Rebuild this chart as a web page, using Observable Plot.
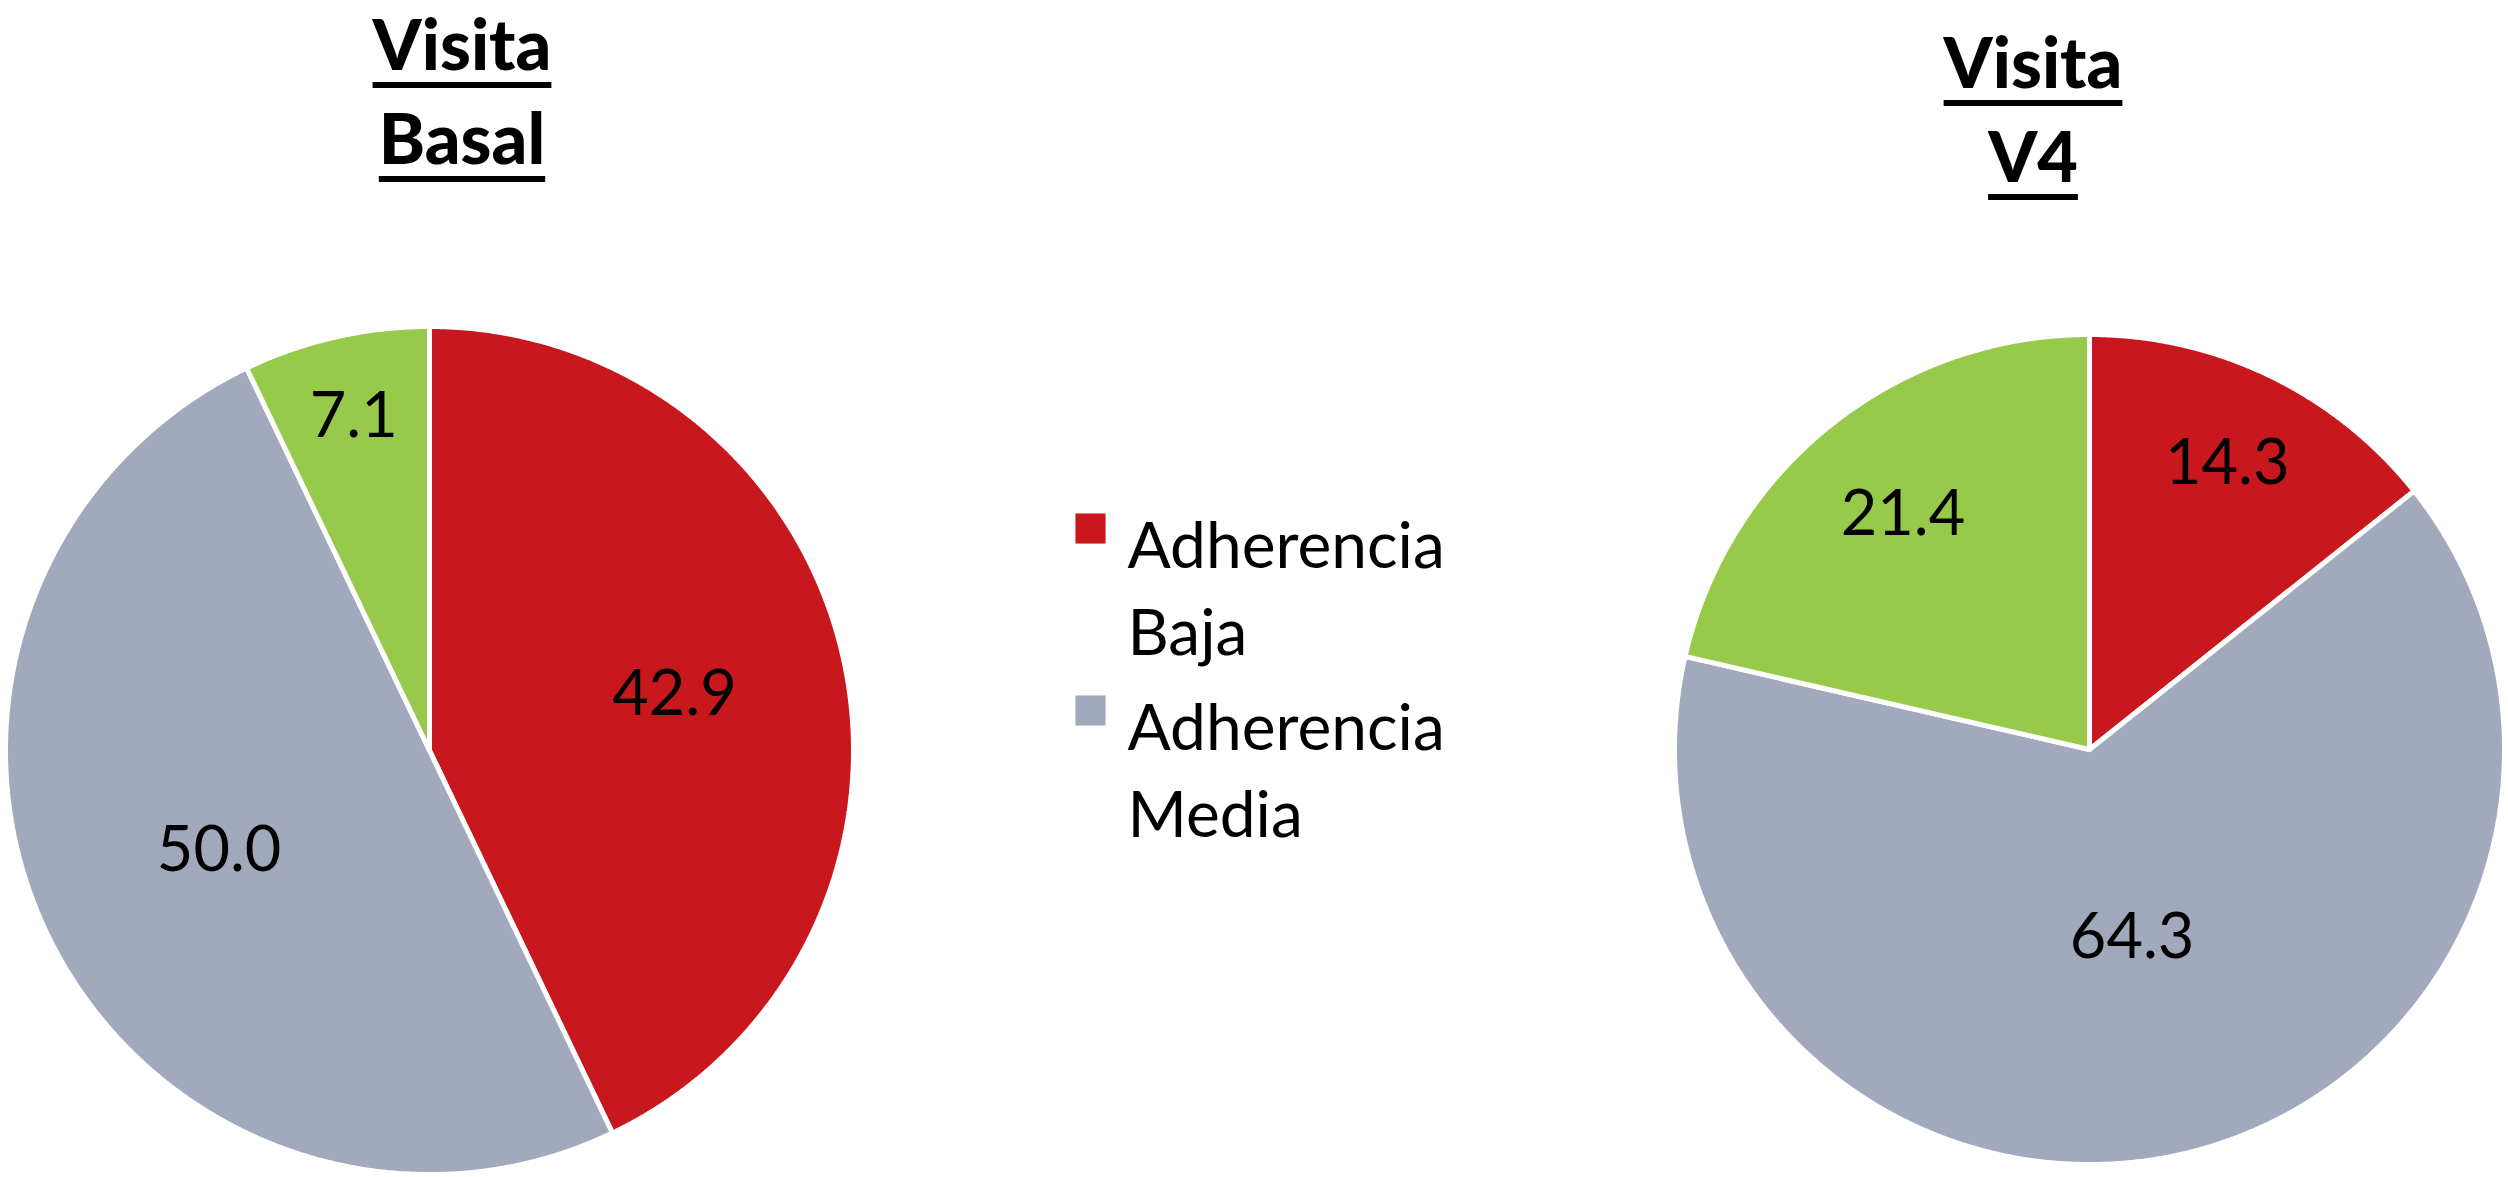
<!DOCTYPE html>
<html>
<head>
<meta charset="utf-8">
<script src="https://cdn.jsdelivr.net/npm/d3@7"></script>
<script src="https://cdn.jsdelivr.net/npm/@observablehq/plot@0.6"></script>
<style>
  html, body { margin: 0; padding: 0; background: #fff; }
  #wrap { position: relative; width: 2508px; height: 1177px; overflow: hidden; font-family: Lato, "Open Sans", sans-serif; }
  #wrap svg { position: absolute; left: 0; top: 0; }
  .title {
    position: absolute; transform: translateX(-50%);
    font-family: Lato, "Open Sans", sans-serif; font-weight: 900; font-size: 70px; line-height: 94px;
    text-align: center; color: #000; white-space: nowrap;
    text-decoration: underline; text-decoration-thickness: 6px; text-underline-offset: 12px;
  }
</style>
</head>
<body>
<div id="wrap"></div>
<script>
// ---- data ----
const categories = ["Adherencia Baja", "Adherencia Media", "Adherencia Alta"];
const visits = ["Visita Basal", "Visita V4"];
const basalValues = [42.9, 50.0, 7.1];
const v4Values = [14.3, 64.3, 21.4];
const legendCategories = ["Adherencia Baja", "Adherencia Media"];
const colors = ["#C8171D", "#A2A9BD", "#97C94B"];

// ---- layout (pixels) ----
const W = 2508, H = 1177;
const pieLayout = [
  {visit: visits[0], values: basalValues, cx: 429, cy: 750, r: 424, title: ["Visita", "Basal"], tx: 462, ttop: -4},
  {visit: visits[1], values: v4Values, cx: 2089, cy: 749, r: 415, title: ["Visita", "V4"], tx: 2033, ttop: 14}
];

const pieGen = d3.pie().sort(null).value(d => d);
const slicePts = [];
const labels = [];
for (const p of pieLayout) {
  const arcs = pieGen(p.values);
  const total = d3.sum(p.values);
  arcs.forEach((a, i) => {
    const key = p.visit + "|" + categories[i];
    const cat = categories[i];
    slicePts.push({key, cat, x: p.cx, y: p.cy});
    const n = Math.max(2, Math.ceil((a.endAngle - a.startAngle) / (Math.PI / 720)));
    for (let k = 0; k <= n; k++) {
      const t = a.startAngle + (a.endAngle - a.startAngle) * k / n;
      slicePts.push({key, cat, x: p.cx + p.r * Math.sin(t), y: p.cy - p.r * Math.cos(t)});
    }
    slicePts.push({key, cat, x: p.cx, y: p.cy});
    const mid = (a.startAngle + a.endAngle) / 2;
    // "best fit" style: smaller slices get labels further out
    const lr = p.r * (0.85 - 0.6 * a.data / total);
    labels.push({x: p.cx + lr * Math.sin(mid), y: p.cy - lr * Math.cos(mid), text: a.data.toFixed(1)});
  });
}

const legendX = 1090, legendTextX = 1127, legendY0 = 528, legendStep = 182;
const legendRows = legendCategories.map((c, i) => ({
  cat: c, x: legendX, y: legendY0 + i * legendStep,
  tx: legendTextX, text: c.replace(" ", "\n")
}));

const chart = Plot.plot({
  width: W, height: H,
  margin: 0,
  x: {domain: [0, W], range: [0, W], axis: null},
  y: {domain: [0, H], range: [0, H], axis: null},
  color: {domain: categories, range: colors},
  style: {fontFamily: "Lato, 'Open Sans', sans-serif", background: "white"},
  marks: [
    Plot.line(slicePts, {x: "x", y: "y", z: "key", fill: "cat", stroke: "white", strokeWidth: 5, strokeLinejoin: "miter", curve: "linear"}),
    Plot.text(labels, {x: "x", y: "y", text: "text", fontSize: 63, fill: "black", textAnchor: "middle"}),
    Plot.dot(legendRows, {x: "x", y: "y", fill: "cat", symbol: "square", r: 17, stroke: null}),
    Plot.text(legendRows, {x: "tx", y: d => d.y - 22, text: "text", fontSize: 64, textAnchor: "start", lineAnchor: "top", lineHeight: 1.36, fill: "black"})
  ]
});

const wrap = document.getElementById("wrap");
wrap.appendChild(chart);
for (const p of pieLayout) {
  const d = document.createElement("div");
  d.className = "title";
  d.style.left = p.tx + "px";
  d.style.top = p.ttop + "px";
  d.innerHTML = p.title.join("<br>");
  wrap.appendChild(d);
}
</script>
</body>
</html>
